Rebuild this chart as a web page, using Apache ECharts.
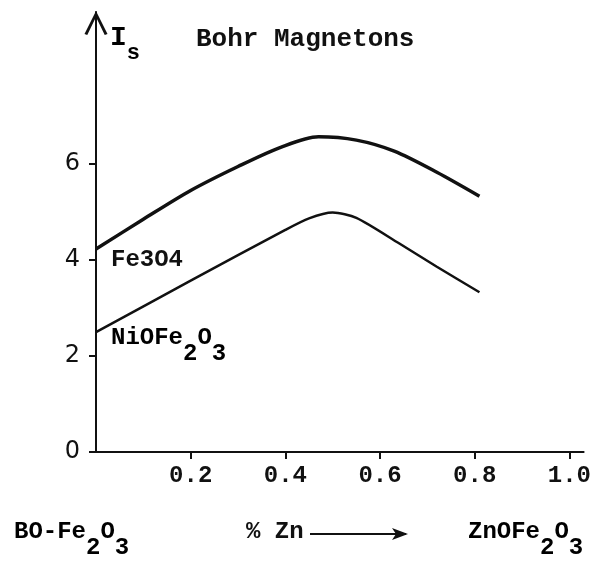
<!DOCTYPE html>
<html>
<head>
<meta charset="utf-8">
<script src="https://cdn.jsdelivr.net/npm/echarts@6/dist/echarts.min.js"></script>
<style>
    html, body { margin: 0; padding: 0; background: #fff; }
    #chart { width: 594px; height: 563px; }
</style>
</head>
<body>
<div id="chart"></div>
<script>
var xTicks = [0.2, 0.4, 0.6, 0.8, 1.0];
var yTicks = [0, 2, 4, 6];

// Fe3O4 curve (upper)
var fe3o4X = [0, 0.1, 0.2, 0.3, 0.39, 0.47, 0.55, 0.63, 0.72, 0.81];
var fe3o4Y = [4.23, 4.85, 5.45, 5.95, 6.35, 6.57, 6.5, 6.27, 5.83, 5.33];

// NiOFe2O3 curve (lower)
var nioX = [0, 0.2, 0.4, 0.45, 0.5, 0.55, 0.64, 0.72, 0.81];
var nioY = [2.5, 3.57, 4.63, 4.87, 4.99, 4.88, 4.35, 3.86, 3.33];

function pairs(xs, ys) {
    return xs.map(function (x, i) { return [x, ys[i]]; });
}

var mono = '"Liberation Mono", "DejaVu Sans Mono", monospace';
var ink = '#111';

var subRich = {
    b: { fontFamily: mono, fontWeight: 'bold', fontSize: 24, color: ink, lineHeight: 24, verticalAlign: 'top' },
    s: { fontFamily: mono, fontWeight: 'bold', fontSize: 24, color: ink, lineHeight: 24, padding: [16, 0, 0, 0], verticalAlign: 'top' }
};

var myChart = echarts.init(document.getElementById('chart'));

var option = {
    animation: false,
    backgroundColor: '#fff',
    grid: { left: 96, right: 7, top: 12, bottom: 111 },
    xAxis: {
        type: 'value',
        min: 0,
        max: 1.03,
        splitLine: { show: false },
        axisLine: { lineStyle: { color: ink, width: 2 } },
        axisTick: { customValues: xTicks, length: 7, lineStyle: { color: ink, width: 2 } },
        axisLabel: {
            customValues: xTicks,
            margin: 12,
            color: ink,
            fontFamily: mono,
            fontWeight: 'bold',
            fontSize: 24,
            formatter: function (v) { return v.toFixed(1); }
        }
    },
    yAxis: {
        type: 'value',
        min: 0,
        max: 9.17,
        splitLine: { show: false },
        axisLine: {
            show: true,
            lineStyle: { color: ink, width: 2 },
            symbol: ['none', 'path://M0,10 L5,0 L10,10 L8.8,10.5 L5,2.6 L1.2,10.5 Z'],
            symbolSize: [23, 27],
            symbolOffset: [0, -11]
        },
        axisTick: { show: true, customValues: yTicks, length: 7, lineStyle: { color: ink, width: 2 } },
        axisLabel: {
            customValues: yTicks,
            margin: 16,
            color: ink,
            fontFamily: '"DejaVu Sans", sans-serif',
            fontSize: 24
        }
    },
    series: [
        {
            name: 'Fe3O4',
            type: 'line',
            data: pairs(fe3o4X, fe3o4Y),
            smooth: 0.3,
            symbol: 'none',
            lineStyle: { color: ink, width: 3.5 }
        },
        {
            name: 'NiOFe2O3',
            type: 'line',
            data: pairs(nioX, nioY),
            smooth: 0.25,
            symbol: 'none',
            lineStyle: { color: ink, width: 2.5 }
        }
    ],
    graphic: [
        {
            type: 'text', left: 110, top: 24,
            style: { text: '{b|I}{s|s}', rich: {
                b: { fontFamily: mono, fontWeight: 'bold', fontSize: 28, color: ink, lineHeight: 24, verticalAlign: 'top' },
                s: { fontFamily: mono, fontWeight: 'bold', fontSize: 22, color: ink, lineHeight: 22, padding: [18, 0, 0, 0], verticalAlign: 'top' }
            } }
        },
        {
            type: 'text', left: 196, top: 26,
            style: { text: 'Bohr Magnetons', fontFamily: mono, fontWeight: 'bold', fontSize: 26, fill: ink }
        },
        {
            type: 'text', left: 111, top: 248,
            style: { text: 'Fe3O4', fontFamily: mono, fontWeight: 'bold', fontSize: 24, fill: ink }
        },
        {
            type: 'text', left: 111, top: 326,
            style: { text: '{b|NiOFe}{s|2}{b|O}{s|3}', rich: subRich }
        },
        {
            type: 'text', left: 14, top: 520,
            style: { text: '{b|BO-Fe}{s|2}{b|O}{s|3}', rich: subRich }
        },
        {
            type: 'text', left: 246, top: 520,
            style: { text: '% Zn', fontFamily: mono, fontWeight: 'bold', fontSize: 24, fill: ink }
        },
        {
            type: 'line',
            shape: { x1: 310, y1: 534, x2: 406, y2: 534 },
            style: { stroke: ink, lineWidth: 2 }
        },
        {
            type: 'polygon',
            shape: { points: [[392, 528], [408, 534], [392, 540], [396, 534]] },
            style: { fill: ink }
        },
        {
            type: 'text', left: 468, top: 520,
            style: { text: '{b|ZnOFe}{s|2}{b|O}{s|3}', rich: subRich }
        }
    ]
};

myChart.setOption(option);
</script>
</body>
</html>
